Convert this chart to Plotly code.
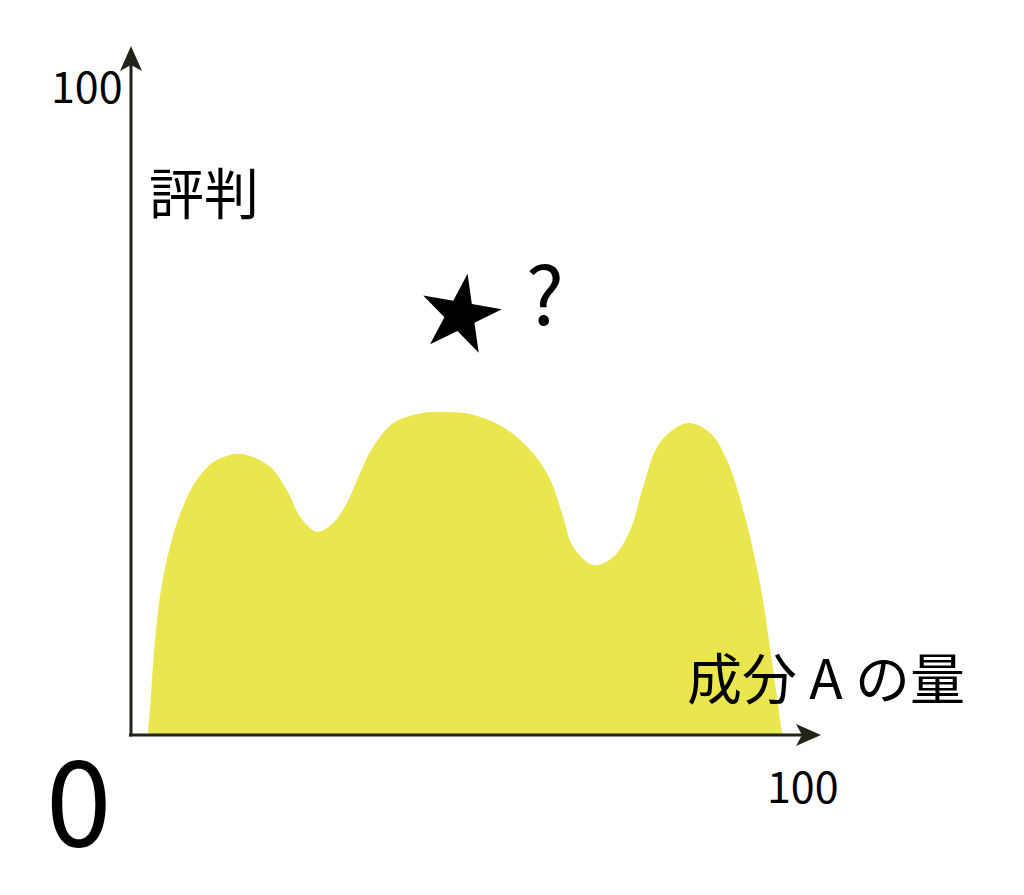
import plotly.graph_objects as go

# ---- data (in chart units: 0..100 on both axes) ----
curve_x = [2.5, 2.9, 3.3, 4.3, 5.8, 7.7, 9.8, 12.2, 14.7, 15.8, 17.3, 20.7, 23.2, 25.2, 27.7,
           30.1, 32.1, 34.5, 36.0, 39.0, 43.5, 46.0, 50.9, 56.0, 59.8, 62.4, 64.3, 65.8,
           68.8, 71.7, 74.3, 76.2, 78.7, 82.7, 86.2, 88.7, 91.1, 93.6, 95.5, 96.9]
curve_y = [0.0, 5.0, 11.1, 21.2, 28.9, 35.0, 39.2, 41.9, 43.0, 43.2, 43.0, 41.2, 37.6, 33.5, 31.2,
           32.6, 35.6, 41.2, 44.2, 47.9, 49.5, 49.6, 49.2, 46.9, 43.3, 39.2, 33.5, 28.9,
           26.1, 27.3, 31.5, 38.1, 44.9, 47.9, 46.4, 42.2, 34.6, 23.3, 10.4, 0.0]
star_x = [49.0]
star_y = [64.5]
question_label = "?"
y_axis_label = "評判"
x_axis_label = "成分 A の量"
origin_label = "0"
x_max_label = "100"
y_max_label = "100"

FONT = "Noto Sans CJK JP"
AXIS_COLOR = "#24231a"
FILL = "#E9E74D"

# pixel <-> data mapping (x=0 at px 131, x=100 at px 803; y=0 at px 735, y=100 at px 84)
X0, XS = 131.0, 6.72
Y0, YS = 735.0, 6.51
W, H = 1024, 895


def dx(px):
    return (px - X0) / XS


def dy(py):
    return (Y0 - py) / YS


fig = go.Figure()

fig.add_trace(go.Scatter(
    x=curve_x, y=curve_y, mode="lines", line=dict(shape="spline", width=0, color=FILL),
    fill="tozeroy", fillcolor=FILL, hoverinfo="skip", showlegend=False))

fig.add_trace(go.Scatter(
    x=star_x, y=star_y, mode="markers",
    marker=dict(symbol="star", size=60, color="black", angle=10, line=dict(width=0)),
    showlegend=False, hoverinfo="skip"))

shapes = [
    # axes lines
    dict(type="line", x0=dx(129), y0=0, x1=dx(805), y1=0, line=dict(color=AXIS_COLOR, width=3)),
    dict(type="line", x0=0, y0=dy(736.5), x1=0, y1=dy(62), line=dict(color=AXIS_COLOR, width=3)),
    # arrow heads
    dict(type="path", fillcolor=AXIS_COLOR, line=dict(width=0),
         path=f"M {dx(131)},{dy(46)} L {dx(142)},{dy(71)} L {dx(131)},{dy(65)} L {dx(120)},{dy(71)} Z"),
    dict(type="path", fillcolor=AXIS_COLOR, line=dict(width=0),
         path=f"M {dx(821)},{dy(735)} L {dx(796)},{dy(746)} L {dx(802)},{dy(735)} L {dx(796)},{dy(724)} Z"),
]

annotations = [
    dict(x=100, y=dy(784), text=x_max_label, font=dict(size=43, color="black", family=FONT)),
    dict(x=dx(87), y=100, text=y_max_label, font=dict(size=43, color="black", family=FONT)),
    dict(x=dx(79), y=dy(794), text=origin_label, font=dict(size=118, color="black", family=FONT)),
    dict(x=dx(204), y=dy(190), text=y_axis_label, font=dict(size=55, color="black", family=FONT)),
    dict(x=dx(826), y=dy(675), text=x_axis_label, font=dict(size=55, color="black", family=FONT)),
    dict(x=dx(545), y=dy(290), text=question_label, font=dict(size=80, color="black", family=FONT)),
]
for a in annotations:
    a.update(xref="x", yref="y", showarrow=False, xanchor="center", yanchor="middle")

fig.update_layout(
    width=W, height=H, margin=dict(l=0, r=0, t=0, b=0),
    paper_bgcolor="white", plot_bgcolor="white",
    xaxis=dict(range=[dx(0), dx(W)], visible=False, fixedrange=True),
    yaxis=dict(range=[dy(H), dy(0)], visible=False, fixedrange=True),
    shapes=shapes, annotations=annotations, showlegend=False,
)

fig.write_html("out.html", config=dict(displayModeBar=False),
               post_script="document.body.style.margin='0';document.body.style.overflow='hidden';")
